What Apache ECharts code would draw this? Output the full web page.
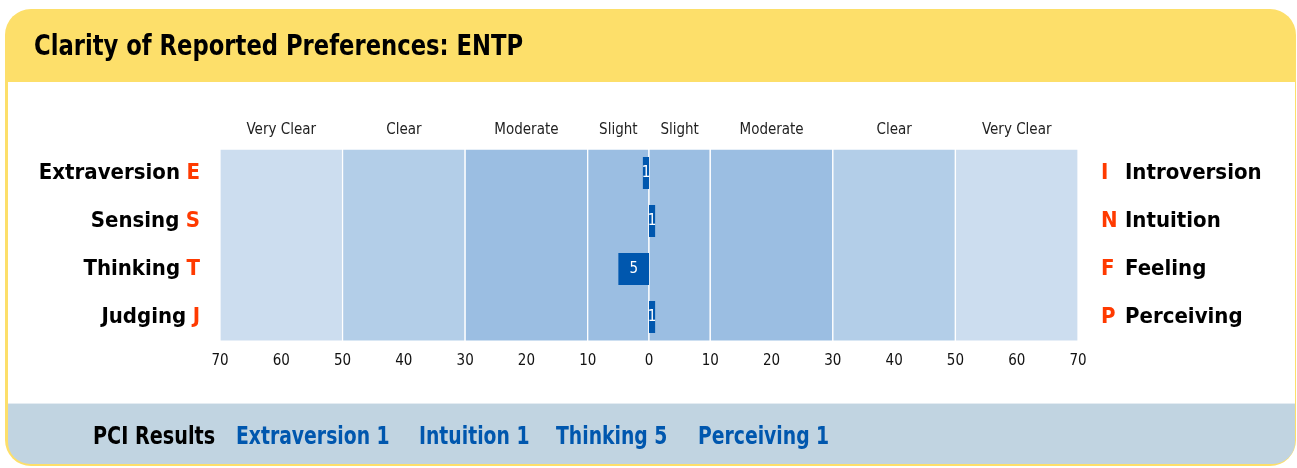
<!DOCTYPE html>
<html>
<head>
<meta charset="utf-8">
<script src="https://cdn.jsdelivr.net/npm/echarts@6/dist/echarts.min.js"></script>
<style>
html,body{margin:0;padding:0;background:#fff;}
#c{width:1297px;height:468px;}
</style>
</head>
<body>
<div id="c"></div>
<script>
var leftNames = ['Extraversion', 'Sensing', 'Thinking', 'Judging'];
var leftLetters = ['E', 'S', 'T', 'J'];
var rightNames = ['Introversion', 'Intuition', 'Feeling', 'Perceiving'];
var rightLetters = ['I', 'N', 'F', 'P'];
// negative = left pole, positive = right pole
var pciValues = [-1, 1, -5, 1];
var bandNames = ['Very Clear', 'Clear', 'Moderate', 'Slight', 'Slight', 'Moderate', 'Clear', 'Very Clear'];
var bandEdges = [-70, -50, -30, -10, 0, 10, 30, 50, 70];
var bandColors = ['#CCDDEF', '#B3CEE8', '#9BBEE2', '#9BBEE2', '#9BBEE2', '#9BBEE2', '#B3CEE8', '#CCDDEF'];

var FONT = '"Liberation Sans Narrow", "DejaVu Sans Condensed", "Roboto Condensed", Roboto, sans-serif';
var RED = '#FF3A00';
var BLUE = '#0057AE';

var chart = echarts.init(document.getElementById('c'), null, {renderer: 'canvas'});

var marks = [];
for (var i = 0; i < bandNames.length; i++) {
  marks.push([
    {name: bandNames[i], xAxis: bandEdges[i], itemStyle: {color: bandColors[i]}},
    {xAxis: bandEdges[i + 1]}
  ]);
}

var pciTexts = pciValues.map(function (v, i) {
  return (v < 0 ? leftNames[i] : rightNames[i]) + ' ' + Math.abs(v);
});
var pciX = [236, 419, 556, 698];

var graphics = [
  {type: 'rect', z: -10, silent: true, shape: {x: 5, y: 9, width: 1291, height: 457, r: 26}, style: {fill: '#FDDF6A'}},
  {type: 'rect', z: -9, silent: true, shape: {x: 8, y: 82, width: 1287, height: 322}, style: {fill: '#FFFFFF'}},
  {type: 'rect', z: -9, silent: true, shape: {x: 8, y: 404, width: 1287, height: 60, r: [0, 0, 22, 22]}, style: {fill: '#C1D4E1'}},
  {type: 'rect', z: -9, silent: true, shape: {x: 8, y: 403, width: 1287, height: 1}, style: {fill: '#E4ECF2'}},
  {type: 'text', z: 5, x: 34, y: 47, scaleX: 0.87, style: {text: 'Clarity of Reported Preferences: ENTP', font: 'bold 29px ' + FONT, fill: '#000', verticalAlign: 'middle'}},
  {type: 'text', z: 5, x: 93, y: 438, scaleX: 0.89, style: {text: 'PCI Results', font: 'bold 24px ' + FONT, fill: '#000', verticalAlign: 'middle'}}
];
pciTexts.forEach(function (t, i) {
  graphics.push({type: 'text', z: 5, x: pciX[i], y: 438, scaleX: 0.87, style: {text: t, font: 'bold 24px ' + FONT, fill: BLUE, verticalAlign: 'middle'}});
});

chart.setOption({
  animation: false,
  textStyle: {fontFamily: FONT},
  graphic: graphics,
  grid: {left: 220, right: 219, top: 149, height: 192, containLabel: false},
  xAxis: {
    type: 'value', min: -70, max: 70, interval: 10,
    axisLine: {show: false}, axisTick: {show: false}, splitLine: {show: false},
    axisLabel: {margin: 13, fontSize: 15, color: '#111', fontFamily: FONT, formatter: function (v) { return Math.abs(v); }}
  },
  yAxis: [
    {
      type: 'category', inverse: true, data: leftNames,
      axisLine: {show: false}, axisTick: {show: false},
      axisLabel: {
        margin: 20,
        formatter: function (v, i) { return '{n|' + v + '} {l|' + leftLetters[i] + '}'; },
        rich: {
          n: {fontSize: 22, fontWeight: 'bold', color: '#000', fontFamily: FONT},
          l: {fontSize: 22, fontWeight: 'bold', color: RED, fontFamily: FONT, padding: [0, 0, 0, 3]}
        }
      }
    },
    {
      type: 'category', inverse: true, position: 'right', data: rightNames,
      axisLine: {show: false}, axisTick: {show: false},
      axisLabel: {
        margin: 23,
        formatter: function (v, i) { return '{l|' + rightLetters[i] + '}{n|' + v + '}'; },
        rich: {
          l: {fontSize: 22, fontWeight: 'bold', color: RED, width: 24, fontFamily: FONT},
          n: {fontSize: 22, fontWeight: 'bold', color: '#000', fontFamily: FONT}
        }
      }
    }
  ],
  series: [
    {
      type: 'bar', data: [], z: 1, silent: true,
      markArea: {
        silent: true,
        itemStyle: {borderColor: '#FFFFFF', borderWidth: 1.25},
        label: {show: true, position: 'top', distance: 11, fontSize: 15, color: '#222', fontFamily: FONT},
        data: marks
      }
    },
    {
      type: 'bar', data: pciValues, z: 5, barWidth: 32, yAxisIndex: 0,
      itemStyle: {color: BLUE},
      label: {show: true, position: 'inside', color: '#FFFFFF', fontSize: 15, fontFamily: FONT,
        formatter: function (p) { return Math.abs(p.value); }}
    }
  ]
});
</script>
</body>
</html>
